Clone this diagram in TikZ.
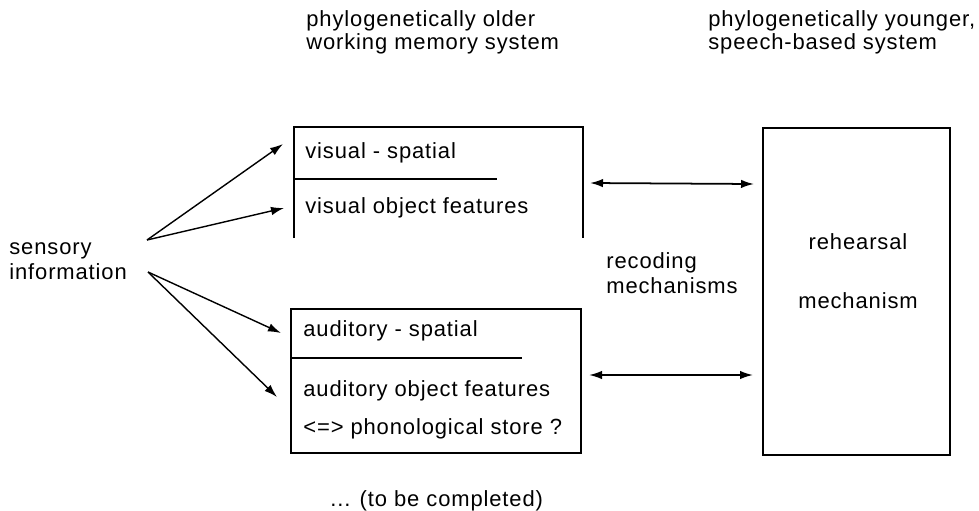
\documentclass[tikz,border=0pt]{standalone}
\usepackage{fontspec}
\setmainfont[LetterSpace=4]{Liberation Sans}
\usetikzlibrary{arrows.meta}
\tikzset{
    lbl/.style={anchor=base west,inner sep=0pt,align=left},
    mid/.style={anchor=base,inner sep=0pt},
    boxline/.style={line width=0.8pt},
    feed/.style={line width=0.8pt,-{Latex[length=2.6mm,width=1.7mm]}},
    recode/.style={line width=1pt,{Latex[length=2.6mm,width=1.7mm]}-{Latex[length=2.6mm,width=1.7mm]}}
}
\begin{document}
\begin{tikzpicture}[x=0.2mm,y=-0.2mm,font=\fontsize{12.5}{14.2}\selectfont]
                \useasboundingbox (0,0) rectangle (979,510);
                \node[lbl,font=\fontsize{12.5}{11.3}\selectfont] (older) at (306,49) {phylogenetically older\\working memory system};
                \node[lbl,font=\fontsize{12.5}{11.3}\selectfont] (younger) at (708,49) {phylogenetically younger,\\speech-based system};
                \node[lbl] (sensory) at (9,279) {sensory\\information};
                \draw[boxline] (294,238)--(294,127)--(583,127)--(583,238);
                \draw[boxline] (294,179)--(497,179);
                \node[lbl] (visspat) at (305,158) {visual - spatial};
                \node[lbl] (visobj) at (305,213) {visual object features};
                \draw[boxline] (291,309) rectangle (581,453);
                \draw[boxline] (291,358)--(522,358);
                \node[lbl] (audspat) at (303,336) {auditory - spatial};
                \node[lbl] (audobj) at (303,396) {auditory object features};
                \node[lbl] (phono) at (303,434) {<=> phonological store ?};
                \draw[boxline] (763,128) rectangle (950,455);
                \node[mid] (rehearsal) at (858,249) {rehearsal};
                \node[mid] (mechanism) at (858,308) {mechanism};
                \node[lbl] (recoding) at (606,293) {recoding\\mechanisms};
                \node[lbl] (tbc) at (330,506) {... (to be completed)};
                \coordinate (sensup) at (147,240);
                \coordinate (sensdown) at (148,272);
                \coordinate (visspatin) at (283,144);
                \coordinate (visobjin) at (284,208);
                \coordinate (audspatin) at (281,333);
                \coordinate (audobjin) at (277,397);
                \coordinate (visout) at (590,183);
                \coordinate (rehtop) at (754,184);
                \coordinate (audout) at (589,375);
                \coordinate (rehbot) at (753,375);
                \draw[feed] (sensup)--(visspatin);
                \draw[feed] (sensup)--(visobjin);
                \draw[feed] (sensdown)--(audspatin);
                \draw[feed] (sensdown)--(audobjin);
                \draw[recode] (visout)--(rehtop);
                \draw[recode] (audout)--(rehbot);
            \end{tikzpicture}
\end{document}
